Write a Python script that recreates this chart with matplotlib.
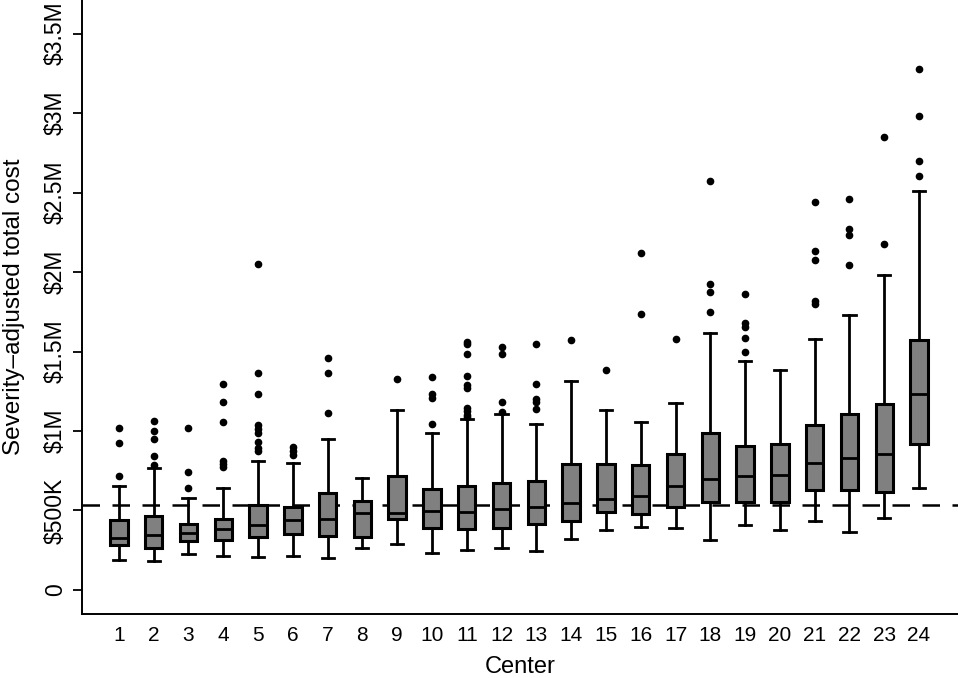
import matplotlib
matplotlib.use('Agg')
import matplotlib.pyplot as plt

# values in millions of dollars
centers = list(range(1, 25))
whislo = [0.189, 0.182, 0.229, 0.212, 0.210, 0.212, 0.203, 0.266, 0.289, 0.235, 0.252, 0.266,
          0.245, 0.321, 0.377, 0.398, 0.390, 0.312, 0.407, 0.375, 0.436, 0.367, 0.451, 0.640]
q1 = [0.283, 0.266, 0.308, 0.314, 0.331, 0.350, 0.340, 0.333, 0.447, 0.388, 0.382, 0.388,
      0.413, 0.436, 0.491, 0.478, 0.524, 0.556, 0.551, 0.551, 0.627, 0.627, 0.618, 0.916]
med = [0.329, 0.344, 0.356, 0.384, 0.409, 0.438, 0.445, 0.484, 0.486, 0.495, 0.491, 0.507,
       0.524, 0.549, 0.570, 0.591, 0.654, 0.700, 0.717, 0.725, 0.801, 0.832, 0.857, 1.231]
q3 = [0.440, 0.465, 0.417, 0.447, 0.535, 0.524, 0.608, 0.560, 0.719, 0.637, 0.654, 0.675,
      0.686, 0.795, 0.795, 0.784, 0.855, 0.989, 0.904, 0.918, 1.038, 1.109, 1.168, 1.572]
whishi = [0.656, 0.765, 0.579, 0.640, 0.809, 0.797, 0.952, 0.704, 1.130, 0.989, 1.075, 1.107,
          1.044, 1.317, 1.130, 1.057, 1.174, 1.618, 1.440, 1.384, 1.579, 1.727, 1.983, 2.508]
fliers = [
    [1.021, 0.923, 0.717],
    [1.063, 1.002, 0.948, 0.841, 0.784],
    [1.021, 0.744, 0.640],
    [1.296, 1.180, 1.059, 0.813, 0.792, 0.776],
    [2.050, 1.365, 1.235, 1.036, 1.011, 0.985, 0.933, 0.891, 0.876],
    [0.901, 0.874, 0.849],
    [1.459, 1.365, 1.113],
    [],
    [1.327],
    [1.338, 1.231, 1.210, 1.042],
    [1.562, 1.545, 1.482, 1.348, 1.289, 1.268, 1.147, 1.126, 1.101, 1.090],
    [1.528, 1.486, 1.182, 1.121],
    [1.545, 1.298, 1.201, 1.184, 1.140],
    [1.574],
    [1.386],
    [2.120, 1.738],
    [1.577],
    [2.574, 1.927, 1.872, 1.747],
    [1.864, 1.681, 1.654, 1.583, 1.497],
    [],
    [2.440, 2.134, 2.073, 1.820, 1.797],
    [2.461, 2.270, 2.235, 2.044],
    [2.849, 2.178],
    [3.279, 2.981, 2.696, 2.602],
]
overall_ref = 0.535
ytick_vals = [0, 0.5, 1.0, 1.5, 2.0, 2.5, 3.0, 3.5]
ytick_labels = ['0', '$500K', '$1M', '$1.5M', '$2M', '$2.5M', '$3M', '$3.5M']

plt.rcParams['font.family'] = ['Liberation Sans', 'DejaVu Sans']

fig = plt.figure(figsize=(9.58, 6.78), dpi=100)
ax = fig.add_axes([0.0856, 0.0944, 0.9144, 0.9056])

stats = []
for i in range(len(centers)):
    stats.append({'whislo': whislo[i], 'q1': q1[i], 'med': med[i], 'q3': q3[i],
                  'whishi': whishi[i], 'fliers': fliers[i], 'label': str(centers[i])})

ax.axhline(overall_ref, color='black', lw=1.8, linestyle=(0, (7, 5)), zorder=1)

ax.bxp(stats, positions=centers, widths=0.5, patch_artist=True, showfliers=True,
       boxprops=dict(facecolor='#808080', edgecolor='black', linewidth=2.2),
       medianprops=dict(color='black', linewidth=2),
       whiskerprops=dict(color='black', linewidth=2),
       capprops=dict(color='black', linewidth=2),
       capwidths=0.35,
       flierprops=dict(marker='o', markerfacecolor='black', markeredgecolor='black',
                       markersize=4.5, linestyle='none'),
       zorder=3)

ax.set_xlim(-0.06, 25.12)
ax.set_ylim(-0.151, 3.711)
ax.set_yticks(ytick_vals)
ax.set_yticklabels(ytick_labels, rotation=90, va='center')
ax.tick_params(axis='y', length=6.5, width=1.3, pad=4.5, labelsize=16.5)
ax.tick_params(axis='x', length=0, pad=9, labelsize=15)

for s in ['top', 'right']:
    ax.spines[s].set_visible(False)
for s in ['left', 'bottom']:
    ax.spines[s].set_linewidth(1.4)

ax.set_xlabel('Center', fontsize=17, labelpad=7.5)
ax.set_ylabel('Severity\u2013adjusted total cost', fontsize=17.5)
ax.yaxis.set_label_coords(-0.065, 0.5)

fig.savefig('out.png', dpi=100)
